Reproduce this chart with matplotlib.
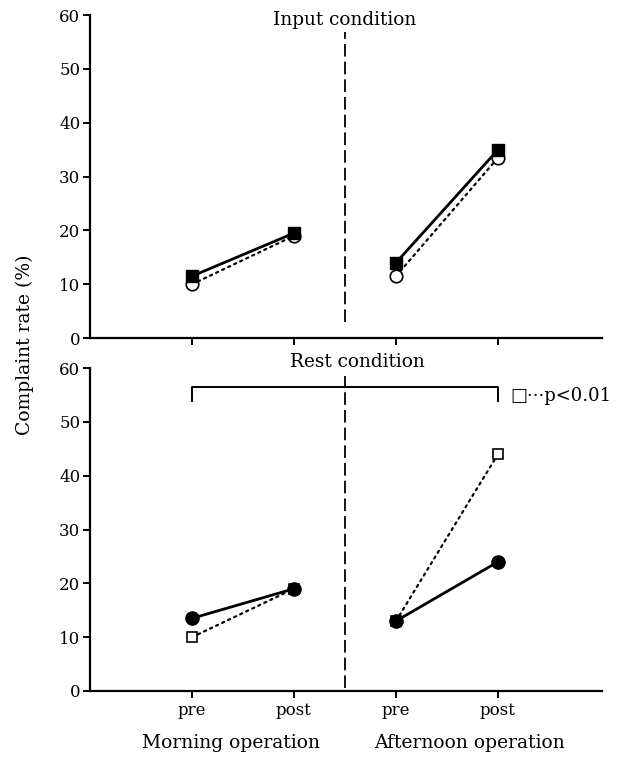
import matplotlib
matplotlib.use("Agg")
import matplotlib.pyplot as plt

plt.rcParams['font.family'] = ['DejaVu Serif']

# sessions on the shared x axis
x_pos = [0, 1, 2, 3]
tick_labels = ["pre", "post", "pre", "post"]
group_labels = ["Morning operation", "Afternoon operation"]

# Input condition (complaint rate, %)
input_filled = [11.5, 19.5, 14.0, 35.0]   # filled squares, solid line
input_open = [10.0, 19.0, 11.5, 33.5]     # open circles, dotted line

# Rest condition (complaint rate, %)
rest_filled = [13.5, 19.0, 13.0, 24.0]    # filled circles, solid line
rest_open = [10.0, 19.0, 13.0, 44.0]      # open squares, dotted line

sig_level = 56.5
sig_drop = 53.8

fig = plt.figure(figsize=(6.28, 7.58), dpi=100)
ax_top = fig.add_axes([0.1433, 0.554, 0.8153, 0.426])
ax_bot = fig.add_axes([0.1433, 0.0884, 0.8153, 0.426])

dotted = (0, (1, 2))
dashed = (0, (7, 2.8))

for ax in (ax_top, ax_bot):
    ax.set_xlim(-1, 4.02)
    ax.set_ylim(0, 60)
    ax.spines['top'].set_visible(False)
    ax.spines['right'].set_visible(False)
    ax.spines['left'].set_linewidth(1.6)
    ax.spines['bottom'].set_linewidth(1.6)
    ax.set_yticks(range(0, 61, 10))
    ax.set_xticks(x_pos)
    ax.tick_params(axis='both', direction='out', length=5, width=1.4,
                   labelsize=12, pad=2)

ax_top.axvline(1.5, ymin=0.05, ymax=0.947, color='black', lw=1.3,
               linestyle=dashed)
ax_bot.axvline(1.5, ymin=0.01, ymax=0.975, color='black', lw=1.3,
               linestyle=dashed)

# top panel
ax_top.set_xticklabels([])
for seg in (slice(0, 2), slice(2, 4)):
    ax_top.plot(x_pos[seg], input_open[seg], linestyle=dotted, color='black',
                lw=1.6, dash_capstyle='round', marker='o', ms=9,
                mfc='white', mec='black', mew=1.2, zorder=3)
    ax_top.plot(x_pos[seg], input_filled[seg], '-', color='black', lw=2.0,
                marker='s', ms=8.5, mfc='black', mec='black', zorder=4)
ax_top.text(1.5, 59.1, "Input condition", ha='center', va='center',
            fontsize=13.3, zorder=5,
            bbox=dict(facecolor='white', edgecolor='none', pad=1))

# bottom panel
ax_bot.set_xticklabels(tick_labels, fontsize=12)
ax_bot.tick_params(axis='x', pad=3)
for seg in (slice(0, 2), slice(2, 4)):
    ax_bot.plot(x_pos[seg], rest_open[seg], linestyle=dotted, color='black',
                lw=1.6, dash_capstyle='round', marker='s', ms=7.5,
                mfc='white', mec='black', mew=1.2, zorder=3)
    ax_bot.plot(x_pos[seg], rest_filled[seg], '-', color='black', lw=2.0,
                marker='o', ms=9.5, mfc='black', mec='black', zorder=4)

# significance bracket
ax_bot.plot([x_pos[0], x_pos[0], x_pos[3], x_pos[3]],
            [sig_drop, sig_level, sig_level, sig_drop],
            color='black', lw=1.4, clip_on=False)
ax_bot.text(3.12, sig_drop + 1.0, "\u25a1\u00b7\u00b7\u00b7p<0.01",
            ha='left', va='center', fontsize=13)
ax_bot.text(1.62, 61.2, "Rest condition", ha='center', va='center',
            fontsize=13.3)

# session group labels
xform = ax_bot.get_xaxis_transform()
ax_bot.text(0.387, -0.161, group_labels[0], transform=xform,
            ha='center', va='center', fontsize=13.5)
ax_bot.text(2.72, -0.161, group_labels[1], transform=xform,
            ha='center', va='center', fontsize=13.5)

fig.text(0.04, 0.545, "Complaint rate (%)", rotation=90, ha='center',
         va='center', fontsize=13.5)

fig.savefig("out.png", dpi=100)
